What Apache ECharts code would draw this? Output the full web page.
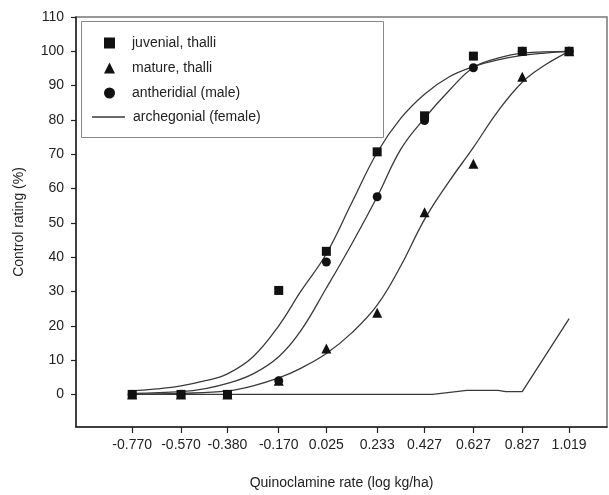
<!DOCTYPE html>
<html>
<head>
<meta charset="utf-8">
<script src="https://cdn.jsdelivr.net/npm/echarts@6/dist/echarts.min.js"></script>
<style>html,body{margin:0;padding:0;background:#fff}#c{width:609px;height:495px}</style>
</head>
<body>
<div id="c"></div>
<script>
// ---- data ----
var xTicks = [-0.770, -0.570, -0.380, -0.170, 0.025, 0.233, 0.427, 0.627, 0.827, 1.019];
var yTicks = [0, 10, 20, 30, 40, 50, 60, 70, 80, 90, 100, 110];

var juvenileX = [-0.770, -0.570, -0.380, -0.170, 0.025, 0.233, 0.427, 0.627, 0.827, 1.019];
var juvenileY = [0, 0, 0, 30.3, 41.7, 70.7, 81.2, 98.6, 100, 100];

var matureX = [-0.770, -0.570, -0.380, -0.170, 0.025, 0.233, 0.427, 0.627, 0.827, 1.019];
var matureY = [0, 0, 0, 4, 13.4, 23.8, 53.1, 67.2, 92.6, 100];

var antheridialX = [-0.770, -0.570, -0.380, -0.170, 0.025, 0.233, 0.427, 0.627, 0.827, 1.019];
var antheridialY = [0, 0, 0, 4, 38.6, 57.6, 79.8, 95.2, 100, 100];

var archegonialX = [-0.770, -0.570, -0.380, -0.170, 0.025, 0.233, 0.427, 0.460, 0.600, 0.728, 0.760, 0.827, 1.019];
var archegonialY = [0, 0, 0, 0, 0, 0, 0, 0, 1.2, 1.2, 0.8, 0.8, 22.1];

// fitted curves
var curveJuvX = [-0.770, -0.670, -0.570, -0.470, -0.380, -0.275, -0.170, -0.080, 0.025, 0.130, 0.233, 0.330, 0.427, 0.527, 0.627, 0.727, 0.827, 0.920, 1.019];
var curveJuvY = [1.0, 1.6, 2.5, 4.0, 6.0, 11, 20, 30, 41, 56, 70.5, 80.5, 87.5, 92.5, 95.5, 97.5, 98.8, 99.5, 100];

var curveAntX = [-0.770, -0.570, -0.470, -0.380, -0.275, -0.170, -0.080, 0.025, 0.130, 0.233, 0.330, 0.427, 0.527, 0.627, 0.727, 0.827, 1.019];
var curveAntY = [0.3, 0.8, 1.7, 3.2, 6, 11, 18.5, 31, 44, 57.6, 71.5, 80.5, 88.5, 95.3, 98, 99.5, 100];

var curveMatX = [-0.770, -0.570, -0.380, -0.275, -0.170, -0.080, 0.025, 0.130, 0.233, 0.330, 0.427, 0.527, 0.627, 0.727, 0.827, 0.920, 1.019];
var curveMatY = [0, 0.3, 1.0, 2.5, 4.8, 7.6, 11.9, 18, 26, 37.5, 51, 62, 72, 82.5, 91, 96, 100];

var names = ['juvenial, thalli', 'mature, thalli', 'antheridial (male)', 'archegonial (female)'];

function zip(xs, ys) { return xs.map(function (x, i) { return [x, ys[i]]; }); }

var FONT = '"Liberation Sans", Arial, sans-serif';
var TXT = '#222';
var LINE = '#3a3a3a';
var MARK = '#111';

var chart = echarts.init(document.getElementById('c'), null, { renderer: 'canvas' });
chart.setOption({
  animation: false,
  backgroundColor: '#fff',
  grid: { left: 76, right: 2, top: 17, bottom: 67, show: true, borderColor: '#777', borderWidth: 1.5, backgroundColor: 'transparent' },
  xAxis: {
    type: 'value', min: -1.0, max: 1.174,
    name: 'Quinoclamine rate (log kg/ha)', nameLocation: 'middle', nameGap: 49,
    nameTextStyle: { fontFamily: FONT, fontSize: 14, color: TXT },
    axisLine: { show: true, onZero: false, lineStyle: { color: '#222', width: 1.5 } },
    axisTick: { show: true, inside: false, length: 6, customValues: xTicks, lineStyle: { color: '#222', width: 1.2 } },
    axisLabel: { customValues: xTicks, margin: 11, fontFamily: FONT, fontSize: 14, color: TXT,
      formatter: function (v) { return v.toFixed(3); } },
    splitLine: { show: false }
  },
  yAxis: {
    type: 'value', min: -9.5, max: 110,
    name: 'Control rating (%)', nameLocation: 'middle', nameGap: 50, nameRotate: 90,
    nameTextStyle: { fontFamily: FONT, fontSize: 14, color: TXT },
    axisLine: { show: true, onZero: false, lineStyle: { color: '#222', width: 1.5 } },
    axisTick: { show: true, inside: false, length: 5, customValues: yTicks, lineStyle: { color: '#222', width: 1.2 } },
    axisLabel: { customValues: yTicks, margin: 12, fontFamily: FONT, fontSize: 14, color: TXT },
    splitLine: { show: false }
  },
  legend: [{
    orient: 'vertical', left: 104, top: 36, padding: 0,
    itemWidth: 11, itemHeight: 11, itemGap: 11, symbolKeepAspect: true,
    textStyle: { fontFamily: FONT, fontSize: 14, color: TXT, padding: [0, 0, 0, 12] },
    data: [
      { name: names[0], icon: 'path://M0,0 L9,0 L9,9 L0,9 Z' },
      { name: names[1], icon: 'triangle' },
      { name: names[2], icon: 'path://M5,0 A5,5 0 1 1 4.99,0 Z' }
    ]
  }, {
    orient: 'vertical', left: 92, top: 110, padding: 0,
    itemWidth: 33, itemHeight: 1.3, symbolKeepAspect: false,
    textStyle: { fontFamily: FONT, fontSize: 14, color: TXT, padding: [0, 0, 0, 3] },
    data: [{ name: names[3], icon: 'rect', itemStyle: { color: LINE } }]
  }],
  graphic: [{
    type: 'rect', left: 81, top: 21, z: -1,
    shape: { x: 0, y: 0, width: 302, height: 116 },
    style: { fill: '#fff', stroke: '#888', lineWidth: 1 }
  }],
  series: [
    { name: 'fit juvenile', type: 'line', smooth: 0.4, symbol: 'none', data: zip(curveJuvX, curveJuvY),
      lineStyle: { color: LINE, width: 1.3 }, z: 2 },
    { name: 'fit antheridial', type: 'line', smooth: 0.4, symbol: 'none', data: zip(curveAntX, curveAntY),
      lineStyle: { color: LINE, width: 1.3 }, z: 2 },
    { name: 'fit mature', type: 'line', smooth: 0.4, symbol: 'none', data: zip(curveMatX, curveMatY),
      lineStyle: { color: LINE, width: 1.3 }, z: 2 },
    { name: names[3], type: 'line', symbol: 'none', data: zip(archegonialX, archegonialY),
      itemStyle: { color: LINE }, lineStyle: { color: LINE, width: 1.3 }, z: 2 },
    { name: names[0], type: 'scatter', symbol: 'rect', symbolSize: 9, data: zip(juvenileX, juvenileY),
      itemStyle: { color: MARK, opacity: 1 }, z: 5 },
    { name: names[1], type: 'scatter', symbol: 'triangle', symbolSize: 10, data: zip(matureX, matureY),
      itemStyle: { color: MARK, opacity: 1 }, z: 5 },
    { name: names[2], type: 'scatter', symbol: 'circle', symbolSize: 9, data: zip(antheridialX, antheridialY),
      itemStyle: { color: MARK, opacity: 1 }, z: 5 }
  ]
});
</script>
</body>
</html>
